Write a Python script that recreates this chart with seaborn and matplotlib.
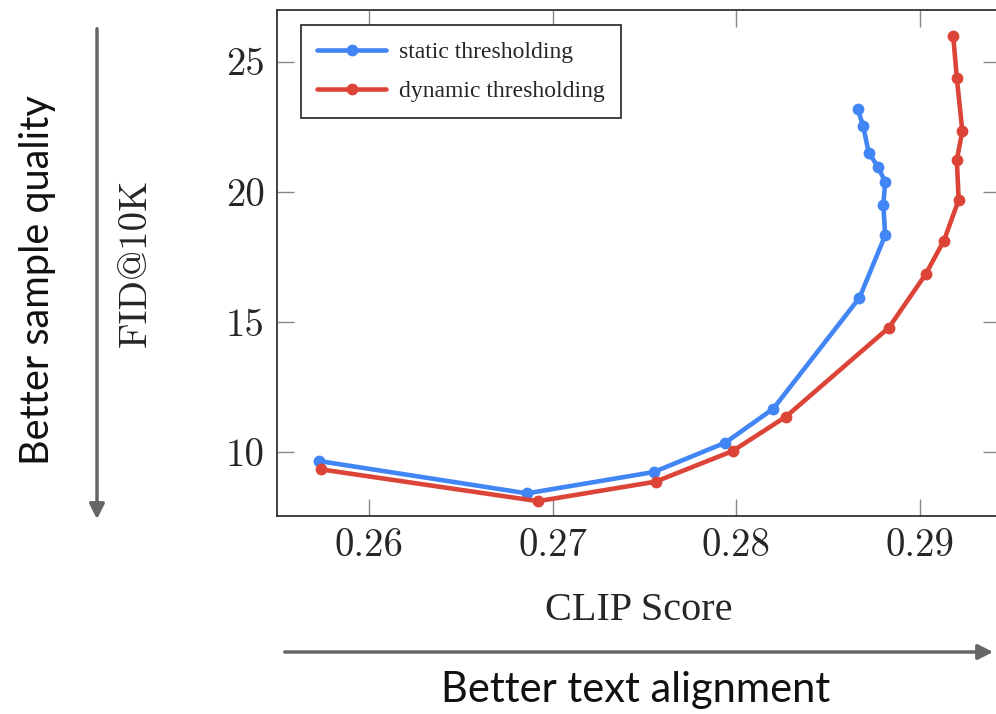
import pandas as pd
import seaborn as sns
import matplotlib.pyplot as plt
from matplotlib.ticker import FuncFormatter

# values
static_clip = [0.2573, 0.2686, 0.2755, 0.2794, 0.2820, 0.2867, 0.2881,
               0.2880, 0.2881, 0.2877, 0.2872, 0.2869, 0.2866]
static_fid = [9.64, 8.40, 9.22, 10.35, 11.65, 15.92, 18.32,
              19.49, 20.38, 20.96, 21.50, 22.53, 23.17]
dynamic_clip = [0.2574, 0.2692, 0.2756, 0.2798, 0.2827, 0.2883, 0.2903,
                0.2913, 0.2921, 0.2920, 0.2923, 0.2920, 0.2918]
dynamic_fid = [9.32, 8.10, 8.85, 10.03, 11.35, 14.77, 16.82,
               18.12, 19.68, 21.22, 22.33, 24.36, 26.00]
methods = ['static thresholding', 'dynamic thresholding']
colors = ['#4285f4', '#db4437']
x_ticks = [0.26, 0.27, 0.28, 0.29]
y_ticks = [10, 15, 20, 25]

df = pd.concat([
    pd.DataFrame({'clip': static_clip, 'fid': static_fid, 'method': methods[0]}),
    pd.DataFrame({'clip': dynamic_clip, 'fid': dynamic_fid, 'method': methods[1]}),
], ignore_index=True)

sns.set_style('ticks')
plt.rcParams['font.family'] = ['Liberation Serif', 'DejaVu Serif']

fig = plt.figure(figsize=(9.96, 7.14), dpi=100)
ax = fig.add_axes([277 / 996, 198 / 714, 723 / 996, 506.5 / 714])

sns.lineplot(
    data=df, x='clip', y='fid', hue='method', hue_order=methods,
    palette=colors, sort=False, estimator=None, marker='o',
    linewidth=3.3, markersize=8.5, markeredgewidth=0, ax=ax)

ax.set_xlim(0.25499, 0.29435)
ax.set_ylim(7.53, 27.0)
ax.set_xticks(x_ticks)
ax.set_yticks(y_ticks)

cm = ['cmr10', 'DejaVu Serif']
ax.xaxis.set_major_formatter(FuncFormatter(lambda v, p: f'{v:.2f}'))
ax.yaxis.set_major_formatter(FuncFormatter(lambda v, p: f'{v:.0f}'))
for lab in ax.get_xticklabels() + ax.get_yticklabels():
    lab.set_family(cm)
    lab.set_fontsize(28)
ax.tick_params(direction='in', length=12, width=1, color='#888888',
               top=True, right=True, pad=9)

for s in ax.spines.values():
    s.set_color('#333333')
    s.set_linewidth(1.3)

ax.set_xlabel('CLIP Score', fontsize=29, labelpad=20)
ax.set_ylabel('FID@10K', fontsize=28, family=cm)
ax.yaxis.set_label_coords(-0.171, 0.5)

leg = ax.legend(loc='upper left', bbox_to_anchor=(0.033, 0.969),
                borderaxespad=0, fontsize=17, handlelength=2.9,
                handletextpad=0.55, fancybox=False, framealpha=1,
                edgecolor='#222222', borderpad=0.7, labelspacing=0.72)
leg.get_frame().set_linewidth(1.2)

# outer direction hints
ax.annotate('', xy=(97 / 996, 1 - 522 / 714), xytext=(97 / 996, 1 - 26 / 714),
            xycoords='figure fraction', textcoords='figure fraction',
            arrowprops=dict(arrowstyle='-|>,head_width=0.45,head_length=0.9',
                            color='#666666', lw=2.5), annotation_clip=False)
ax.annotate('', xy=(996 / 996, 1 - 652 / 714), xytext=(282 / 996, 1 - 652 / 714),
            xycoords='figure fraction', textcoords='figure fraction',
            arrowprops=dict(arrowstyle='-|>,head_width=0.45,head_length=0.9',
                            color='#666666', lw=2.5), annotation_clip=False)
fig.text(38 / 996, 1 - 280 / 714, 'Better sample quality', rotation=90,
         ha='center', va='center', fontsize=28.5, family='Lato', color='#111111')
fig.text(636 / 996, 1 - 690 / 714, 'Better text alignment',
         ha='center', va='center', fontsize=30, family='Lato', color='#111111')

fig.savefig('out.png')
